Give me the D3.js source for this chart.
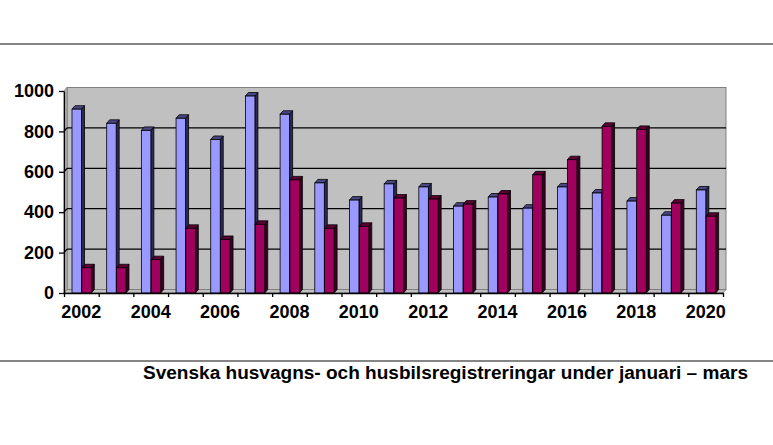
<!DOCTYPE html>
<html><head><meta charset="utf-8">
<script src="https://cdn.jsdelivr.net/npm/d3@7"></script>
<style>
html,body{margin:0;padding:0;background:#fff;}
svg{display:block;font-family:"Liberation Sans",Arial,sans-serif;}
</style></head>
<body>
<svg id="c" width="773" height="445"></svg>
<script>
const years = [2002,2003,2004,2005,2006,2007,2008,2009,2010,2011,2012,2013,2014,2015,2016,2017,2018,2019,2020];
const seriesA = [910,840,805,865,760,975,885,545,460,540,525,430,475,420,525,495,455,385,510];
const seriesB = [125,125,165,320,265,340,560,320,330,470,465,440,490,585,660,825,810,445,380];
const yTickValues = [0,200,400,600,800,1000];
const xTickLabels = ["2002","2004","2006","2008","2010","2012","2014","2016","2018","2020"];
const title = "Svenska husvagns- och husbilsregistreringar under januari – mars";

const svg = d3.select("#c");
const X0 = 64, X1 = 723, Y0 = 293, Y1 = 91;
const dx = 3, dy = 3.5;

const x = d3.scaleBand().domain(years).range([X0, X1]).padding(0);
const xi = d3.scaleLinear().domain([0, years.length]).range([X0, X1]);
const y = d3.scaleLinear().domain([0, 1000]).range([Y0, Y1]);

// decorative rules
svg.append("rect").attr("x",0).attr("y",43).attr("width",773).attr("height",2).attr("fill","#858585");
svg.append("rect").attr("x",0).attr("y",360).attr("width",773).attr("height",2).attr("fill","#858585");

const wall = svg.append("g");
// back wall
wall.append("rect").attr("x",X0+dx).attr("y",y(1000)-dy).attr("width",X1-X0).attr("height",y(0)-y(1000))
  .attr("fill","#c0c0c0").attr("stroke","#808080").attr("stroke-width",1);
// left side wall
wall.append("path").attr("d",`M${X0},${y(0)}L${X0},${y(1000)}L${X0+dx},${y(1000)-dy}L${X0+dx},${y(0)-dy}Z`)
  .attr("fill","#c0c0c0").attr("stroke","#808080").attr("stroke-width",1);
// floor
wall.append("path").attr("d",`M${X0},${y(0)}L${X0+dx},${y(0)-dy}L${X1+dx},${y(0)-dy}L${X1},${y(0)}Z`)
  .attr("fill","#c0c0c0").attr("stroke","#808080").attr("stroke-width",1);
// gridlines
yTickValues.filter(v=>v>0 && v<1000).forEach(v=>{
  wall.append("line").attr("x1",X0+dx).attr("x2",X1+dx).attr("y1",y(v)-dy).attr("y2",y(v)-dy)
    .attr("stroke","#000").attr("stroke-width",1.3);
  wall.append("line").attr("x1",X0).attr("x2",X0+dx).attr("y1",y(v)).attr("y2",y(v)-dy)
    .attr("stroke","#000").attr("stroke-width",1.3);
});

// bars
const bw = 9.5, offA = 8, offB = 17.8;
const styles = [
  {front:"#9999ff", side:"#2c2a55", top:"#4a4785"},
  {front:"#a0005e", side:"#3a0022", top:"#5c0036"}
];
function bar(g, x0, v, st){
  const yt = y(v), yb = y(0);
  g.append("path").attr("d",`M${x0+bw},${yt}L${x0+bw+dx},${yt-dy}L${x0+bw+dx},${yb-dy}L${x0+bw},${yb}Z`)
    .attr("fill",st.side).attr("stroke","#000").attr("stroke-width",0.8);
  g.append("path").attr("d",`M${x0},${yt}L${x0+dx},${yt-dy}L${x0+bw+dx},${yt-dy}L${x0+bw},${yt}Z`)
    .attr("fill",st.top).attr("stroke","#000").attr("stroke-width",0.8);
  g.append("rect").attr("x",x0).attr("y",yt).attr("width",bw).attr("height",yb-yt)
    .attr("fill",st.front).attr("stroke","#000").attr("stroke-width",0.8);
}
const bars = svg.append("g");
years.forEach((yr,i)=>{
  const s = x(yr);
  bar(bars, s+offA, seriesA[i], styles[0]);
  bar(bars, s+offB, seriesB[i], styles[1]);
});

// axes
const yAxis = svg.append("g").attr("transform",`translate(${X0},0)`)
  .call(d3.axisLeft(y).tickValues(yTickValues).tickSize(5).tickSizeOuter(0).tickPadding(5).tickFormat(d3.format("d")));
const xAxis = svg.append("g").attr("transform",`translate(0,${Y0})`)
  .call(d3.axisBottom(xi).tickValues(d3.range(0, years.length+1)).tickSize(4).tickSizeOuter(0).tickFormat(""));
const xLab = svg.append("g").attr("transform",`translate(0,${Y0})`)
  .call(d3.axisBottom(x).tickValues(xTickLabels.map(Number)).tickSize(0).tickPadding(12).tickFormat(d=>String(d)));
xLab.select(".domain").remove();
[yAxis,xAxis].forEach(a=>a.selectAll("path.domain,line").attr("stroke","#000").attr("stroke-width",1.3));
svg.selectAll(".tick text").attr("font-family","'Liberation Sans',Arial,sans-serif")
  .attr("font-size",18).attr("font-weight","bold").attr("fill","#000");

// title
svg.append("text").attr("x",143).attr("y",378.5).text(title)
  .attr("font-size",18).attr("font-weight","bold").attr("fill","#000")
  .attr("textLength",605).attr("lengthAdjust","spacingAndGlyphs");
</script>
</body></html>
